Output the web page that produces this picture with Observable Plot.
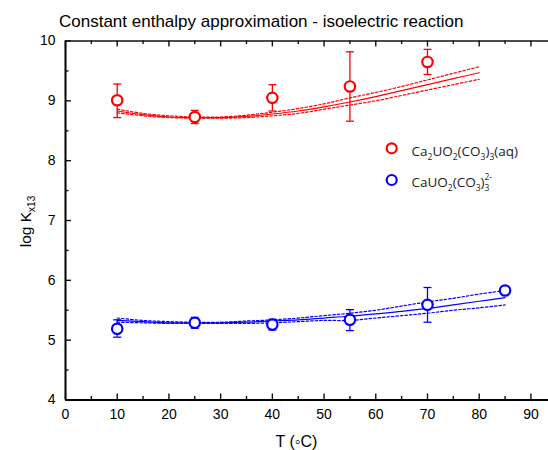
<!DOCTYPE html>
<html><head><meta charset="utf-8">
<script src="https://cdn.jsdelivr.net/npm/d3@7"></script>
<script src="https://cdn.jsdelivr.net/npm/@observablehq/plot@0.6"></script>
<style>
body{margin:0;background:#fff;font-family:"Liberation Sans",Arial,sans-serif;}
#wrap{position:relative;width:548px;height:450px;overflow:hidden;}
#wrap svg{position:absolute;left:0;top:0;overflow:hidden;}
</style></head>
<body><div id="wrap"></div>
<script>
// ---- data ----
const titleText = "Constant enthalpy approximation - isoelectric reaction";
const xTicks = [0,10,20,30,40,50,60,70,80,90];
const xMinor = [5,15,25,35,45,55,65,75,85];
const yTicks = [4,5,6,7,8,9,10];
const yMinor = [4.5,5.5,6.5,7.5,8.5,9.5];

const redT   = [10,25,40,55,70];
const redK   = [9.01,8.73,9.05,9.24,9.65];
const redLo  = [8.72,8.62,8.83,8.66,9.44];
const redHi  = [9.28,8.84,9.27,9.82,9.86];

const blueT  = [10,25,40,55,70,85];
const blueK  = [5.19,5.29,5.26,5.34,5.59,5.83];
const blueLo = [5.05,5.20,5.17,5.16,5.30,5.77];
const blueHi = [5.34,5.38,5.35,5.51,5.88,5.89];

const redFitT   = [10,15,20,25,30,35,40,45,50,55,60,65,70,75,80];
const redFit    = [8.83,8.77,8.73,8.72,8.72,8.74,8.78,8.83,8.90,8.98,9.07,9.17,9.27,9.37,9.47];
const redFitUp  = [8.86,8.79,8.75,8.73,8.73,8.76,8.81,8.87,8.95,9.05,9.14,9.24,9.35,9.46,9.57];
const redFitLo  = [8.80,8.75,8.72,8.71,8.71,8.72,8.75,8.79,8.86,8.93,9.00,9.09,9.18,9.27,9.36];

const blueFitT  = [10,15,20,25,30,35,40,45,50,55,60,65,70,75,80,85];
const blueFit   = [5.33,5.31,5.29,5.29,5.29,5.30,5.32,5.34,5.37,5.40,5.44,5.48,5.53,5.59,5.65,5.71];
const blueFitUp = [5.37,5.33,5.31,5.30,5.30,5.32,5.34,5.37,5.41,5.45,5.50,5.57,5.64,5.70,5.77,5.83];
const blueFitLo = [5.30,5.29,5.28,5.28,5.28,5.28,5.29,5.31,5.33,5.33,5.37,5.41,5.45,5.50,5.54,5.59];

// ---- tables ----
const pts = (T,K,L,H) => T.map((t,i)=>({T:t,K:K[i],lo:L[i],hi:H[i]}));
const curve = (T,V) => T.map((t,i)=>({T:t,v:V[i]}));
const redPts = pts(redT,redK,redLo,redHi);
const bluePts = pts(blueT,blueK,blueLo,blueHi);

const W=548,H=450,mL=65,mR=0,mT=40.5,mB=50.5;
const pw=W-mL-mR, ph=H-mT-mB;
const cap = {draw(ctx){ctx.moveTo(-4,0);ctx.lineTo(4,0);}};

const series = (P, fT, f, fu, fl, color) => [
  Plot.line(curve(fT,fu),{x:"T",y:"v",stroke:color,strokeWidth:1.2,strokeDasharray:"2.5,2",curve:"catmull-rom"}),
  Plot.line(curve(fT,fl),{x:"T",y:"v",stroke:color,strokeWidth:1.2,strokeDasharray:"2.5,2",curve:"catmull-rom"}),
  Plot.line(curve(fT,f),{x:"T",y:"v",stroke:color,strokeWidth:1.2,curve:"catmull-rom"}),
  Plot.ruleX(P,{x:"T",y1:"lo",y2:"hi",stroke:color,strokeWidth:1.3}),
  Plot.dot(P,{x:"T",y:"hi",symbol:cap,r:4,stroke:color,fill:"none",strokeWidth:1.3}),
  Plot.dot(P,{x:"T",y:"lo",symbol:cap,r:4,stroke:color,fill:"none",strokeWidth:1.3}),
  Plot.dot(P,{x:"T",y:"K",r:5.2,stroke:color,strokeWidth:2.2,fill:"white"})
];

const chart = Plot.plot({
  width:W,height:H,marginLeft:mL,marginRight:mR,marginTop:mT,marginBottom:mB,
  style:{fontFamily:"'Liberation Sans',Arial,sans-serif",fontSize:"14px",color:"#000",background:"#fff"},
  x:{domain:[0,93.4]},
  y:{domain:[4,10]},
  marks:[
    Plot.axisX({ticks:xTicks,tickSize:0,tickPadding:9,label:null,fontSize:14,tickFormat:d=>String(d)}),
    Plot.axisY({ticks:yTicks,tickSize:0,tickPadding:10,label:null,fontSize:14,tickFormat:d=>String(d)}),
    Plot.ruleY([10],{stroke:"#111",strokeWidth:1.5}),
    Plot.ruleY([4],{stroke:"#000",strokeWidth:2}),
    Plot.ruleX([0],{stroke:"#000",strokeWidth:2}),
    Plot.tickX(xTicks,{x:d=>d,insetTop:ph-6,stroke:"#111",strokeWidth:1.4}),
    Plot.tickX(xMinor,{x:d=>d,insetTop:ph-3.5,stroke:"#111",strokeWidth:1.4}),
    Plot.tickX(xTicks,{x:d=>d,insetBottom:ph-6,stroke:"#111",strokeWidth:1.4}),
    Plot.tickX(xMinor,{x:d=>d,insetBottom:ph-3.5,stroke:"#111",strokeWidth:1.4}),
    Plot.tickY(yTicks,{y:d=>d,insetRight:pw-6,stroke:"#111",strokeWidth:1.4}),
    Plot.tickY(yMinor,{y:d=>d,insetRight:pw-3.5,stroke:"#111",strokeWidth:1.4}),
    ...series(redPts,redFitT,redFit,redFitUp,redFitLo,"#ff0000"),
    ...series(bluePts,blueFitT,blueFit,blueFitUp,blueFitLo,"#0000ff")
  ]
});
document.getElementById("wrap").appendChild(chart);

// ---- texts (title, axis titles, legend) ----
const svg = d3.select(chart);
const g = svg.append("g").attr("font-family","'Liberation Sans',Arial,sans-serif").attr("fill","#000").attr("text-anchor","start");
g.append("text").attr("x",59).attr("y",27).attr("font-size",17).attr("text-anchor","start").text(titleText);
g.append("text").attr("x",296.5).attr("y",446.5).attr("font-size",16).attr("text-anchor","middle").text("T (\u25E6C)");
const yl = g.append("text").attr("transform","translate(31,221.5) rotate(-90)").attr("font-size",15.5).attr("text-anchor","middle");
yl.append("tspan").text("log K");
yl.append("tspan").attr("font-size",10).attr("dy",4).text("x13");

function legendRow(cy, base, color, parts){
  g.append("circle").attr("cx",391.7).attr("cy",cy).attr("r",5).attr("fill","none").attr("stroke",color).attr("stroke-width",2.2);
  const t = g.append("text").attr("x",411.5).attr("y",base).attr("font-size",13.5)
    .attr("font-family","'Open Sans','Liberation Sans',sans-serif").attr("fill","#222").attr("text-anchor","start");
  let lvl = 0;
  for (const [s, kind, dx] of parts){
    const sp = t.append("tspan").text(s);
    const target = kind==="sub"?4:kind==="sup"?-7:0;
    sp.attr("dy", target-lvl);
    if (kind!=="n") sp.attr("font-size",8.5);
    if (dx) sp.attr("dx",dx);
    lvl = target;
  }
}
legendRow(148.3,156,"#ff0000",[["Ca","n"],["2","sub"],["UO","n"],["2","sub"],["(CO","n"],["3","sub"],[")","n"],["3","sub"],["(aq)","n"]]);
legendRow(180,186.5,"#0000ff",[["CaUO","n"],["2","sub"],["(CO","n"],["3","sub"],[")","n"],["3","sub"],["2-","sup",-5]]);
</script>
</body></html>
